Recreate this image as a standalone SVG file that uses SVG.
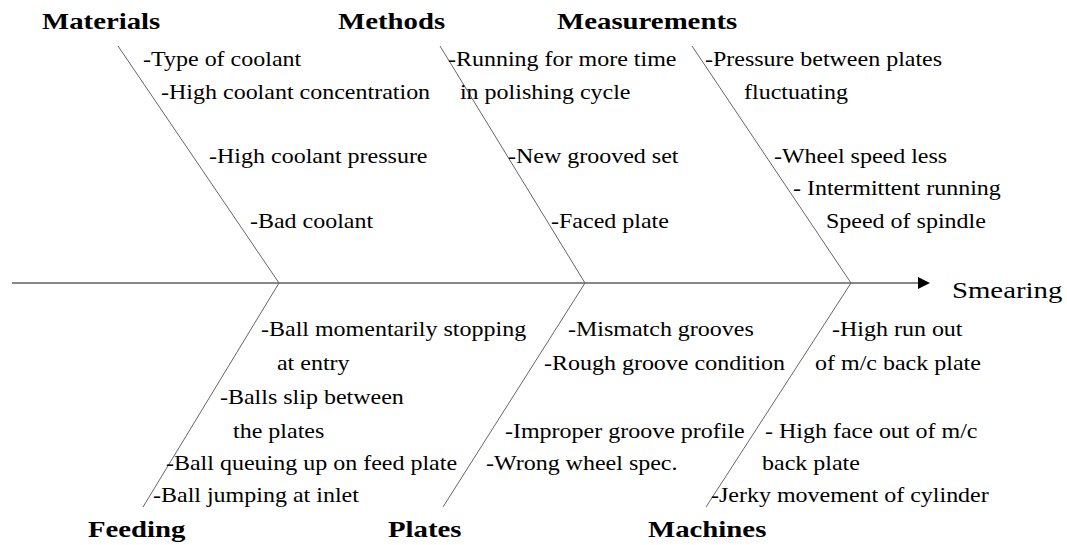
<svg xmlns="http://www.w3.org/2000/svg" width="1067" height="545" viewBox="0 0 1067 545">
<defs>
<style>
.t{font-family:"Liberation Serif","Times New Roman",serif;font-size:20px;fill:#000}
.h{font-family:"Liberation Serif","Times New Roman",serif;font-size:24px;font-weight:bold;fill:#000}
.e{font-family:"Liberation Serif","Times New Roman",serif;font-size:24px;fill:#000}
.bone{stroke:#666;stroke-width:1;fill:none}
.spine{stroke:#888;stroke-width:2;fill:none}
</style>
<marker id="ah" viewBox="0 0 10 10" refX="0" refY="5" markerWidth="17" markerHeight="12" markerUnits="userSpaceOnUse" orient="auto">
<path d="M0,0 L10,5 L0,10 Z" fill="#000"/>
</marker>
</defs>
<rect width="1067" height="545" fill="#fff"/>
<g id="connectors">
<line class="spine" x1="12" y1="283" x2="918" y2="283" marker-end="url(#ah)"/>
<line class="bone" x1="118" y1="46" x2="279" y2="283"/>
<line class="bone" x1="440" y1="46" x2="585" y2="283"/>
<line class="bone" x1="692" y1="46" x2="851" y2="283"/>
<line class="bone" x1="279" y1="283" x2="143" y2="507"/>
<line class="bone" x1="585" y1="283" x2="443" y2="507"/>
<line class="bone" x1="851" y1="283" x2="706" y2="507"/>
</g>
<g id="effect" transform="scale(1.2 1)">
<text class="e" x="793.3" y="298">Smearing</text>
</g>
<g id="materials" transform="scale(1.2 1)">
<text class="h" x="35" y="29">Materials</text>
<text class="t" x="119.2" y="66">-Type of coolant</text>
<text class="t" x="134.2" y="99">-High coolant concentration</text>
<text class="t" x="174.2" y="163">-High coolant pressure</text>
<text class="t" x="208.3" y="228">-Bad coolant</text>
</g>
<g id="methods" transform="scale(1.2 1)">
<text class="h" x="281.7" y="29">Methods</text>
<text class="t" x="373.3" y="66">-Running for more time</text>
<text class="t" x="383.3" y="99">in polishing cycle</text>
<text class="t" x="423.3" y="163">-New grooved set</text>
<text class="t" x="459.2" y="228">-Faced plate</text>
</g>
<g id="measurements" transform="scale(1.2 1)">
<text class="h" x="464.2" y="29">Measurements</text>
<text class="t" x="587.5" y="66">-Pressure between plates</text>
<text class="t" x="620" y="99">fluctuating</text>
<text class="t" x="645" y="163">-Wheel speed less</text>
<text class="t" x="660.8" y="195">- Intermittent running</text>
<text class="t" x="688.3" y="228">Speed of spindle</text>
</g>
<g id="feeding" transform="scale(1.2 1)">
<text class="h" x="73.3" y="537">Feeding</text>
<text class="t" x="217.5" y="336">-Ball momentarily stopping</text>
<text class="t" x="230.8" y="370">at entry</text>
<text class="t" x="183.3" y="404">-Balls slip between</text>
<text class="t" x="194.2" y="438">the plates</text>
<text class="t" x="138.3" y="470">-Ball queuing up on feed plate</text>
<text class="t" x="127.5" y="502">-Ball jumping at inlet</text>
</g>
<g id="plates" transform="scale(1.2 1)">
<text class="h" x="323.3" y="537">Plates</text>
<text class="t" x="473.3" y="336">-Mismatch grooves</text>
<text class="t" x="453.3" y="370">-Rough groove condition</text>
<text class="t" x="420.8" y="438">-Improper groove profile</text>
<text class="t" x="405" y="470">-Wrong wheel spec.</text>
</g>
<g id="machines" transform="scale(1.2 1)">
<text class="h" x="540" y="537">Machines</text>
<text class="t" x="693.3" y="336">-High run out</text>
<text class="t" x="679.2" y="370">of m/c back plate</text>
<text class="t" x="637.5" y="438">- High face out of m/c</text>
<text class="t" x="635" y="470">back plate</text>
<text class="t" x="592.5" y="502">-Jerky movement of cylinder</text>
</g>
</svg>
